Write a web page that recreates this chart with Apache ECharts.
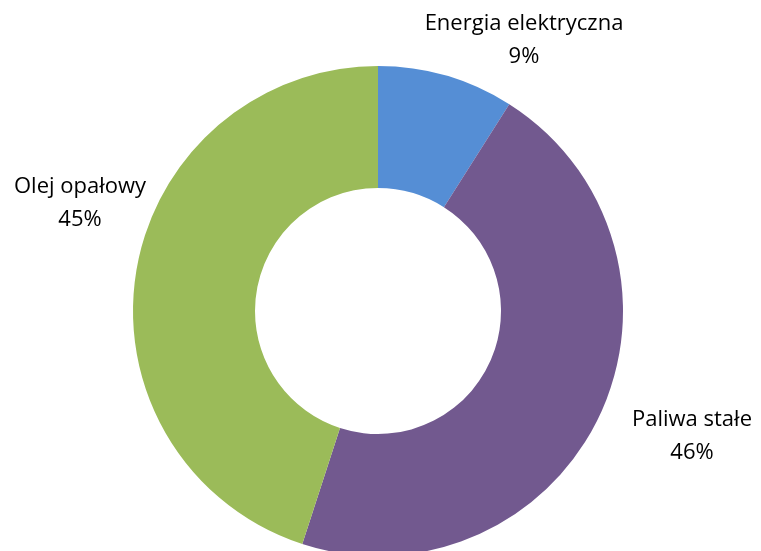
<!DOCTYPE html>
<html>
<head>
<meta charset="utf-8">
<script src="https://cdn.jsdelivr.net/npm/echarts@6/dist/echarts.min.js"></script>
<style>
body { margin: 0; background: #fff; }
#chart { width: 761px; height: 551px; }
</style>
</head>
<body>
<div id="chart"></div>
<script>
// data
const names = ["Energia elektryczna", "Paliwa stałe", "Olej opałowy"];
const values = [9, 46, 45];
const colors = ["#558ed5", "#72598f", "#9bbb59"];

// where each label sits (text block centre)
const labelPos = [[524, 40], [692, 436], [80, 203]];

const myChart = echarts.init(document.getElementById("chart"));
myChart.setOption({
  animation: false,
  series: [
    {
      type: "pie",
      center: [378, 311],
      radius: [123, 245],
      startAngle: 90,
      clockwise: true,
      data: names.map((n, i) => ({
        name: n,
        value: values[i],
        itemStyle: { color: colors[i] },
      })),
      itemStyle: { borderWidth: 0 },
      label: {
        show: true,
        formatter: "{b}\n{d}%",
        fontFamily: "Open Sans",
        fontSize: 22,
        lineHeight: 33,
        color: "#000",
        align: "center",
        overflow: "none",
      },
      labelLine: { show: false },
      labelLayout: (p) => ({
        x: labelPos[p.dataIndex][0],
        y: labelPos[p.dataIndex][1],
        align: "center",
        verticalAlign: "middle",
      }),
    },
  ],
});
</script>
</body>
</html>
